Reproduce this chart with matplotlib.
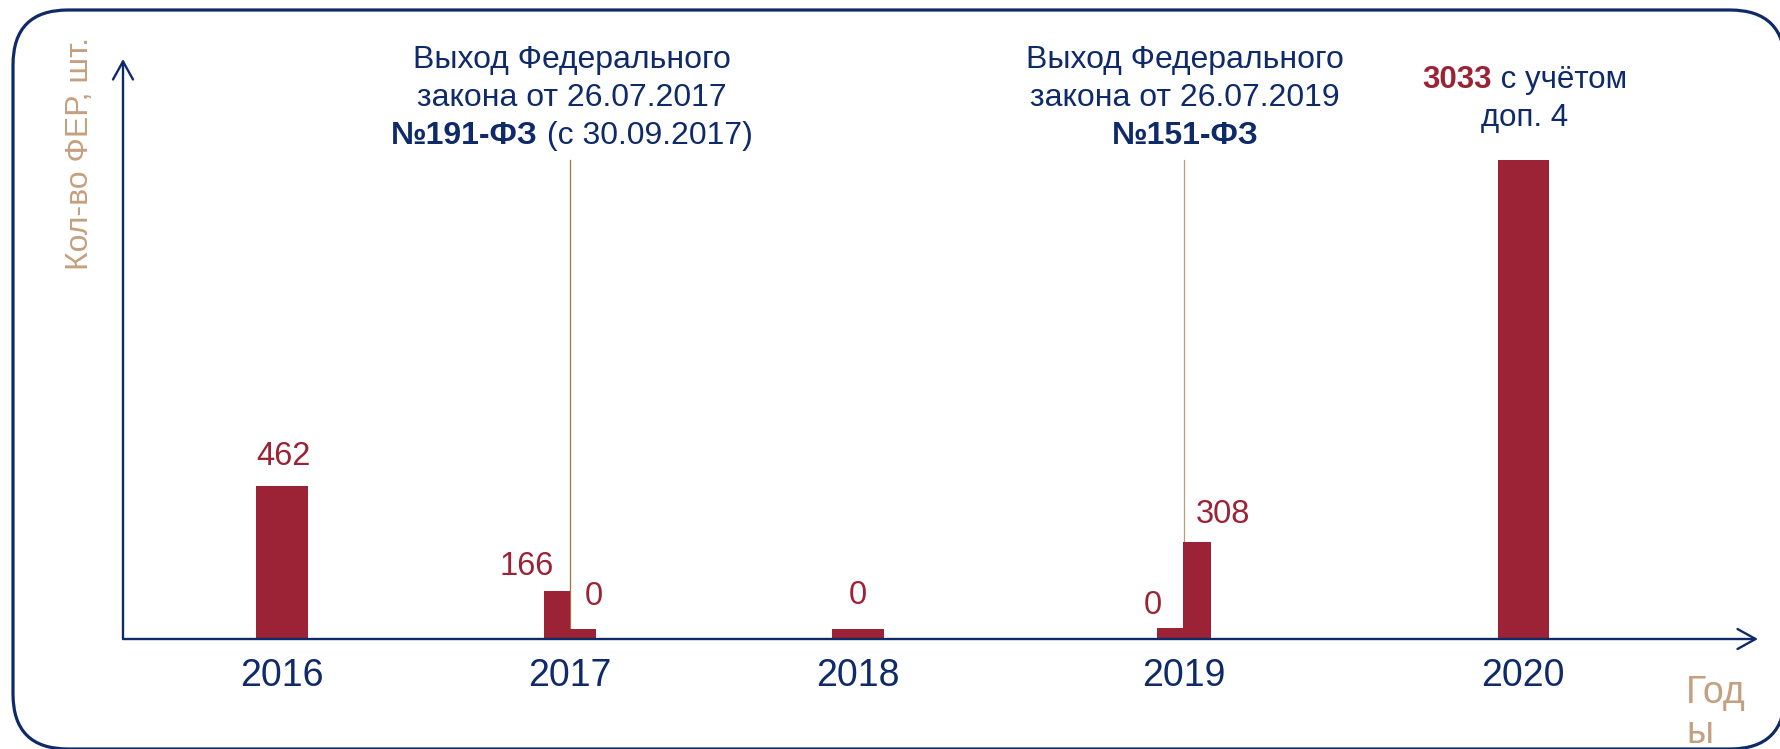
import matplotlib
matplotlib.use('Agg')
import matplotlib.pyplot as plt
from matplotlib.patches import FancyBboxPatch, ArrowStyle

plt.rcParams['font.family'] = ['Liberation Sans', 'DejaVu Sans']

# ---------------- data ----------------
years = ['2016', '2017', '2018', '2019', '2020']
bar_years = ['2016', '2017', '2017', '2018', '2019', '2019', '2020']
bar_values = [462, 166, 0, 0, 0, 308, 3033]
# drawn bar heights (the original chart is not to scale); units where the 2016 bar = 462
bar_drawn = [462, 145, 30, 30, 33, 293, 1446]
y_label = 'Кол-во ФЕР, шт.'
x_label_lines = ['Год', 'ы']
law1_lines = ['Выход Федерального', 'закона от 26.07.2017']
law1_bold = '№191-ФЗ'
law1_tail = ' (с 30.09.2017)'
law2_lines = ['Выход Федерального', 'закона от 26.07.2019']
law2_bold = '№151-ФЗ'
total_bold = '3033'
total_rest = ' с учётом'
total_line2 = 'доп. 4'

# ---------------- layout / style ----------------
W, H = 1781, 749
NAVY = '#0f2a68'
CRIMSON = '#9b2335'
TAN = '#c3a080'
LINE1 = '#a8703c'
LINE2 = '#b89c7c'
slot = {'2016': 0.0, '2017': 1.0, '2018': 2.0, '2019': 3.13, '2020': 4.31}
bar_offset = [0, -0.045, 0.045, 0, -0.046, 0.048, 0]
bar_width = [0.18, 0.09, 0.09, 0.18, 0.09, 0.097, 0.177]
label_offset_px = [(1, 21), (-30, 16), (11, 24), (0, 25), (-17, 14), (26, 19), None]
YTOP = 1751
FS_NOTE = 23
FS_YEAR = 27
FS_VAL = 23.5
FS_TOTAL = 22.5

fig = plt.figure(figsize=(W / 100, H / 100), dpi=100)

# overlay in pixel coordinates (for frame and free text)
ov = fig.add_axes([0, 0, 1, 1])
ov.set_xlim(0, W)
ov.set_ylim(H, 0)
ov.axis('off')
ov.add_patch(FancyBboxPatch((13, 10), 1785 - 13, 749 - 10,
                            boxstyle='round,pad=0,rounding_size=55',
                            fc='white', ec=NAVY, lw=2.3, zorder=0))

# main axes
ax = fig.add_axes([123 / W, (H - 639) / H, (1758 - 123) / W, (639 - 59) / H])
ax.set_xlim(-0.552, 5.125)
ax.set_ylim(0, YTOP)
ax.axis('off')

xs = [slot[y] + o for y, o in zip(bar_years, bar_offset)]
ax.bar(xs, bar_drawn, width=bar_width, color=CRIMSON, linewidth=0, zorder=2)

# value labels
for x, h, v, off in zip(xs, bar_drawn, bar_values, label_offset_px):
    if off is None:
        continue
    ax.annotate(str(v), xy=(x, h), xytext=off, textcoords='offset pixels',
                ha='center', va='baseline', fontsize=FS_VAL, color=CRIMSON)

# year labels
for y in years:
    ax.annotate(y, xy=(slot[y], 0), xycoords=('data', 'axes fraction'),
                xytext=(0, -47), textcoords='offset pixels',
                ha='center', va='baseline', fontsize=FS_YEAR, color=NAVY,
                annotation_clip=False)

# axes arrows
astyle = ArrowStyle('->', head_length=13, head_width=7.2)
for end in [(1, 0), (0, 1)]:
    ax.annotate('', xy=end, xytext=(0, 0), xycoords='axes fraction',
                arrowprops=dict(arrowstyle=astyle, color=NAVY, lw=1.7,
                                shrinkA=0, shrinkB=0, mutation_scale=1),
                annotation_clip=False)

# connector lines
top_frac = (639 - 160) / (639 - 59)
ax.axvline(slot['2017'], ymin=bar_drawn[2] / YTOP, ymax=top_frac, color=LINE1, lw=0.9, zorder=1)
ax.axvline(slot['2019'] + 0.002, ymin=bar_drawn[5] / YTOP, ymax=top_frac, color=LINE2, lw=0.9, zorder=1)

# axis titles
ov.text(88, 154, y_label, rotation=90, rotation_mode='anchor', ha='center',
        va='baseline', fontsize=23, color=TAN)
ov.text(1686, 703, x_label_lines[0], ha='left', va='baseline', fontsize=27, color=TAN)
ov.text(1686, 743, x_label_lines[1], ha='left', va='baseline', fontsize=27, color=TAN)

renderer = fig.canvas.get_renderer()


def mixed_line(cx, y, parts, fs):
    texts = [ov.text(0, y, s, color=c, fontsize=fs, fontweight=w,
                     ha='left', va='baseline') for s, c, w in parts]
    widths = [t.get_window_extent(renderer).width for t in texts]
    x = cx - sum(widths) / 2
    for t, wd in zip(texts, widths):
        t.set_x(x)
        x += wd


for cx, lines, bold, tail in [(572, law1_lines, law1_bold, law1_tail),
                              (1185, law2_lines, law2_bold, None)]:
    for i, ln in enumerate(lines):
        ov.text(cx, 68 + 38 * i, ln, ha='center', va='baseline', fontsize=FS_NOTE, color=NAVY)
    parts = [(bold, NAVY, 'bold')]
    if tail:
        parts.append((tail, NAVY, 'normal'))
    mixed_line(cx, 144, parts, FS_NOTE)

mixed_line(1525, 88, [(total_bold, CRIMSON, 'bold'), (total_rest, NAVY, 'normal')], FS_TOTAL)
ov.text(1525, 126, total_line2, ha='center', va='baseline', fontsize=FS_TOTAL, color=NAVY)

fig.savefig('out.png', dpi=100)
